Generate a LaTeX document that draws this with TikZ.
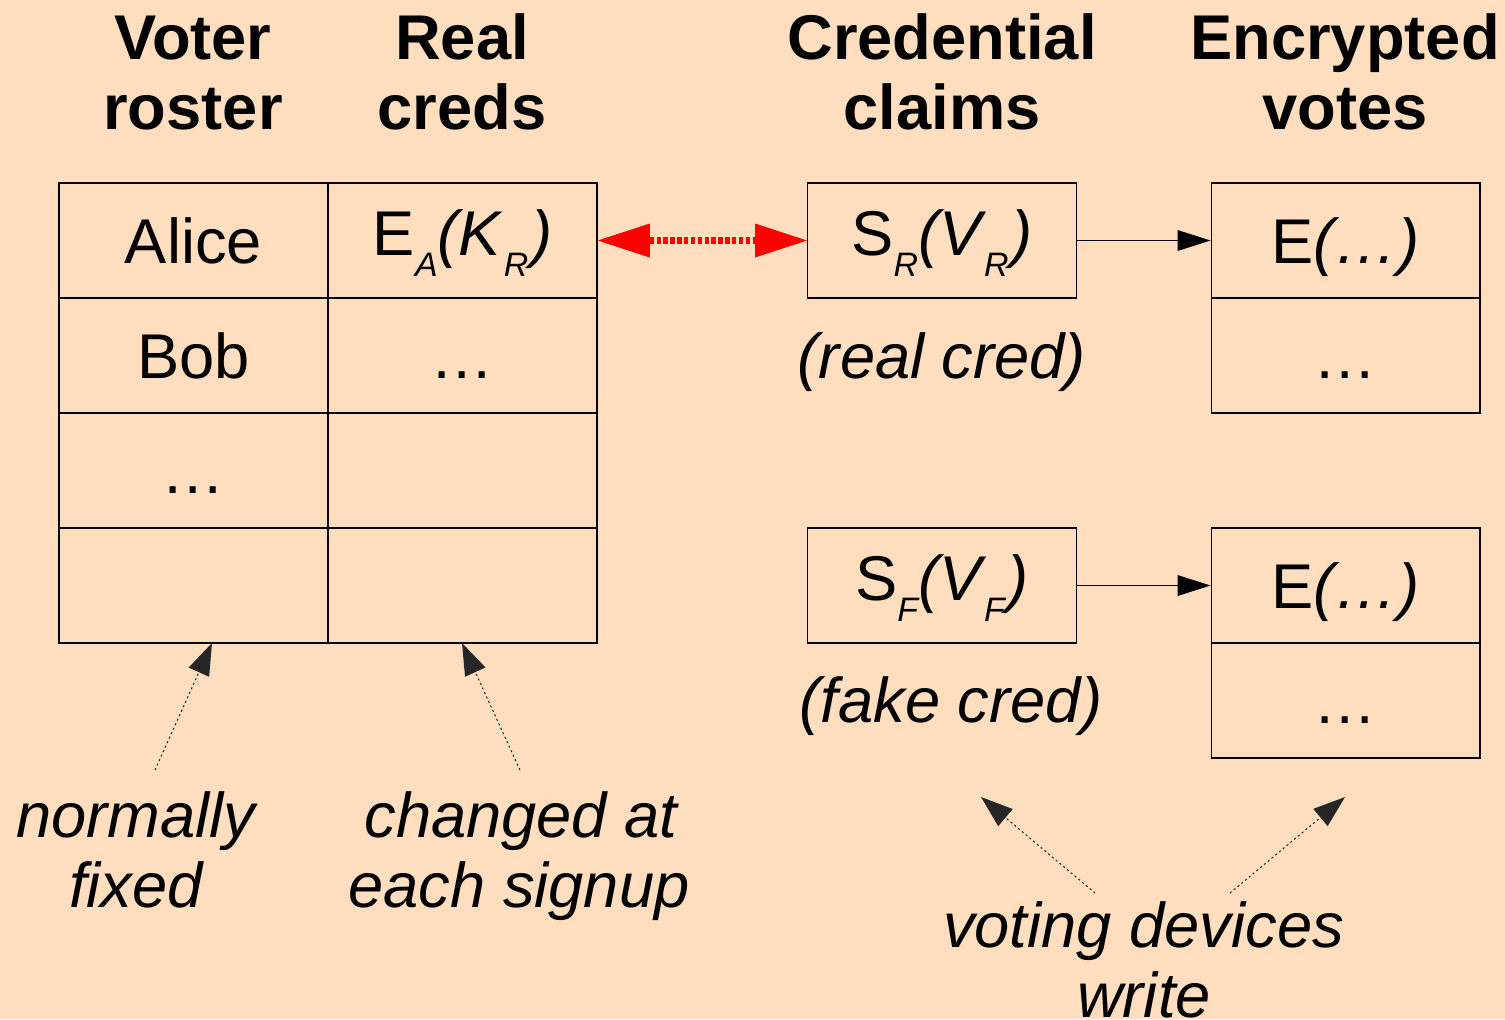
\documentclass[tikz,border=0pt]{standalone}
\usepackage{fontspec}
\setmainfont{Liberation Sans}
\usetikzlibrary{arrows.meta}
\definecolor{paper}{RGB}{255,222,192}
% lowered, smaller italic subscript
\newcommand\lowsub[1]{\raisebox{-12pt}{\fontsize{19.3}{20}\selectfont\itshape #1}}
% the same after an italic letter, with a little room on both sides
\newcommand\lowsubit[1]{\kern1.6pt\lowsub{#1}\kern1.6pt}
\begin{document}
\begin{tikzpicture}[x=0.02cm,y=-0.02cm,
  hdr/.style={font=\fontsize{36}{40}\selectfont\bfseries, anchor=base, inner sep=0},
  note/.style={font=\fontsize{36}{40}\selectfont\itshape, anchor=base, inner sep=0},
  cell/.style={draw=black, line width=0.9pt, minimum width=5.38cm, minimum height=2.3cm,
    inner sep=0, font=\fontsize{36}{40}\selectfont, text height=0.9cm, text depth=0cm},
  subcell/.style={text depth=0.32cm},
  box/.style={cell, line width=0.6pt},
  redlink/.style={draw=red, line width=4.5pt, dash pattern=on 2.5pt off 1.4pt,
    {Triangle[length=1.04cm,width=0.68cm,line width=0pt]}-{Triangle[length=1.04cm,width=0.68cm,line width=0pt]}},
  flow/.style={draw=black, line width=0.6pt, -{Triangle[length=0.66cm,width=0.42cm,line width=0pt]}},
  pointer/.style={draw=black!85, line width=0.6pt, dash pattern=on 1.2pt off 1.6pt,
    -{Triangle[length=0.64cm,width=0.45cm,line width=0pt]}}
]
\useasboundingbox[fill=paper] (0,0) rectangle (1505,1019);

% column headings
\node[hdr] (hVoterA) at (193,59) {Voter};
\node[hdr] (hVoterB) at (193,129) {roster};
\node[hdr] (hRealA) at (462,59) {Real};
\node[hdr] (hRealB) at (462,129) {creds};
\node[hdr] (hClaimA) at (942,59) {Credential};
\node[hdr] (hClaimB) at (942,129) {claims};
\node[hdr] (hVoteA) at (1345,59) {Encrypted};
\node[hdr] (hVoteB) at (1345,129) {votes};

% voter roster and real credentials
\node[cell] (alice) at (193.5,240.5) {Alice};
\node[cell,subcell] (alicecred) at (462.5,240.5) {E\lowsub{A}\textit{(K\lowsubit{R})}};
\node[cell] (bob) at (193.5,355.5) {Bob};
\node[cell] (bobcred) at (462.5,355.5) {…};
\node[cell] (rowCa) at (193.5,470.5) {…};
\node[cell] (rowCb) at (462.5,470.5) {};
\node[cell] (rowDa) at (193.5,585.5) {};
\node[cell] (rowDb) at (462.5,585.5) {};

% credential claims
\node[box,subcell] (claimR) at (942,240.5) {S\lowsub{R}\textit{(V\lowsubit{R})}};
\node[box,subcell] (claimF) at (942,585.5) {S\lowsub{F}\textit{(V\lowsubit{F})}};
\node[note] (realNote) at (942,378) {(real cred)};
\node[note] (fakeNote) at (951,722) {(fake cred)};

% encrypted votes
\node[box] (voteRa) at (1345.5,240.5) {E\textit{(…)}};
\node[box] (voteRb) at (1345.5,355.5) {…};
\node[box] (voteFa) at (1345.5,585.5) {E\textit{(…)}};
\node[box] (voteFb) at (1345.5,700.5) {…};

% connectors
\draw[redlink] (alicecred.east) -- (claimR.west);
\draw[flow] (claimR.east) -- (voteRa.west);
\draw[flow] (claimF.east) -- (voteFa.west);

% annotations
\node[note] (fixA) at (136,837) {normally};
\node[note] (fixB) at (136,907) {fixed};
\node[note] (signA) at (521,837) {changed at};
\node[note] (signB) at (519,907) {each signup};
\node[note] (devA) at (1143.5,947) {voting devices};
\node[note] (devB) at (1144,1017) {write};

\coordinate (fixTail) at (155,770);
\coordinate (fixTip) at (212,643);
\coordinate (signTail) at (520,770);
\coordinate (signTip) at (462,643);
\coordinate (devTailA) at (1095,893);
\coordinate (devTipA) at (981,797);
\coordinate (devTailB) at (1230,893);
\coordinate (devTipB) at (1345,797);
\draw[pointer] (fixTail) -- (fixTip);
\draw[pointer] (signTail) -- (signTip);
\draw[pointer] (devTailA) -- (devTipA);
\draw[pointer] (devTailB) -- (devTipB);
\end{tikzpicture}
\end{document}
